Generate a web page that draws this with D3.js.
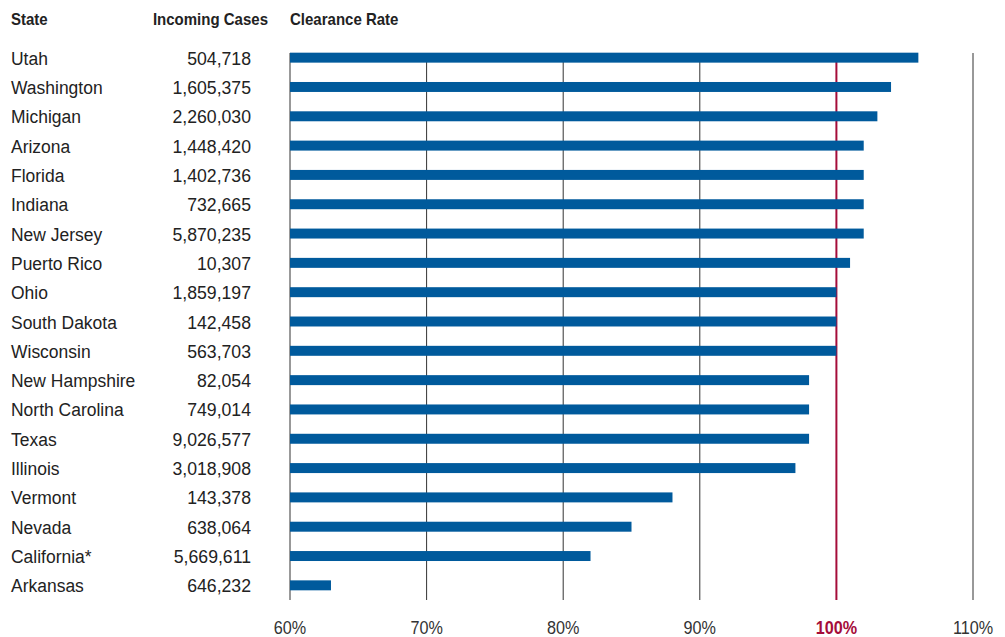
<!DOCTYPE html>
<html>
<head>
<meta charset="utf-8">
<script src="https://cdn.jsdelivr.net/npm/d3@7"></script>
<style>
  body { margin: 0; background: #fff; }
  text { font-family: "Liberation Sans Narrow", "Arial Narrow", "Liberation Sans", sans-serif; fill: #222; }
</style>
</head>
<body>
<svg id="chart" width="1005" height="637"></svg>
<script>
//Data
var states = ["Utah", "Washington", "Michigan", "Arizona", "Florida", "Indiana", "New Jersey",
              "Puerto Rico", "Ohio", "South Dakota", "Wisconsin", "New Hampshire", "North Carolina",
              "Texas", "Illinois", "Vermont", "Nevada", "California*", "Arkansas"];
var incomingCases = ["504,718", "1,605,375", "2,260,030", "1,448,420", "1,402,736", "732,665", "5,870,235",
                     "10,307", "1,859,197", "142,458", "563,703", "82,054", "749,014",
                     "9,026,577", "3,018,908", "143,378", "638,064", "5,669,611", "646,232"];
var clearanceRate = [106, 104, 103, 102, 102, 102, 102, 101, 100, 100, 100, 98, 98, 98, 97, 88, 85, 82, 63];
var tickValues = [60, 70, 80, 90, 100, 110];

var rows = states.map(function(s, i){
    return { State: s, Cases: incomingCases[i], Rate: clearanceRate[i] };
});

//Dimensions
var dimensions = {
    width: 1005,
    height: 637,
    margin: { top: 43, bottom: 37, left: 290, right: 32 }
};

//Squeeze text horizontally (no narrow font available)
function place(x, y, s){ return "translate(" + x + "," + y + ") scale(" + s + ",1)"; }

var svg = d3.select("#chart");

//Scales
var xScale = d3.scaleLinear()
               .domain([60, 110])
               .range([dimensions.margin.left, dimensions.width - dimensions.margin.right]);

var yScale = d3.scaleBand()
               .domain(states)
               .range([dimensions.margin.top, dimensions.height - dimensions.margin.bottom])
               .paddingInner(0.66)
               .paddingOuter(0.33);

var gridTop = 53, gridBottom = 600;

//Gridlines
svg.append("g")
   .selectAll("line")
   .data(tickValues)
   .enter()
   .append("line")
   .attr("x1", function(d){ return xScale(d); })
   .attr("x2", function(d){ return xScale(d); })
   .attr("y1", gridTop)
   .attr("y2", gridBottom)
   .style("stroke", function(d){ return d === 100 ? "#a50d3a" : "#333"; })
   .style("stroke-width", function(d){ return d === 100 ? 2 : 1; });

//Bars
svg.append("g")
   .selectAll("rect")
   .data(rows)
   .enter()
   .append("rect")
   .attr("x", xScale(60))
   .attr("y", function(d){ return yScale(d.State); })
   .attr("width", function(d){ return xScale(d.Rate) - xScale(60); })
   .attr("height", yScale.bandwidth())
   .style("fill", "#005a9c");

//X-axis labels
svg.append("g")
   .selectAll("text")
   .data(tickValues)
   .enter()
   .append("text")
   .attr("transform", function(d){ return place(xScale(d), 634, 0.9); })
   .attr("text-anchor", "middle")
   .style("font-size", "18px")
   .style("font-weight", function(d){ return d === 100 ? "bold" : "normal"; })
   .style("fill", function(d){ return d === 100 ? "#a50d3a" : "#333"; })
   .text(function(d){ return d + "%"; });

//State names
svg.append("g")
   .selectAll("text")
   .data(rows)
   .enter()
   .append("text")
   .attr("transform", function(d){ return place(11, yScale(d.State) + yScale.bandwidth() / 2 + 7, 0.92); })
   .style("font-size", "19px")
   .text(function(d){ return d.State; });

//Incoming cases
svg.append("g")
   .selectAll("text")
   .data(rows)
   .enter()
   .append("text")
   .attr("transform", function(d){ return place(251, yScale(d.State) + yScale.bandwidth() / 2 + 7, 0.93); })
   .attr("text-anchor", "end")
   .style("font-size", "19px")
   .text(function(d){ return d.Cases; });

//Headers
var headers = [["State", 11, "start"], ["Incoming Cases", 268, "end"], ["Clearance Rate", 290, "start"]];
svg.append("g")
   .selectAll("text")
   .data(headers)
   .enter()
   .append("text")
   .attr("transform", function(d){ return place(d[1], 25, 0.91); })
   .attr("text-anchor", function(d){ return d[2]; })
   .style("font-size", "16.5px")
   .style("font-weight", "bold")
   .text(function(d){ return d[0]; });
</script>
</body>
</html>
